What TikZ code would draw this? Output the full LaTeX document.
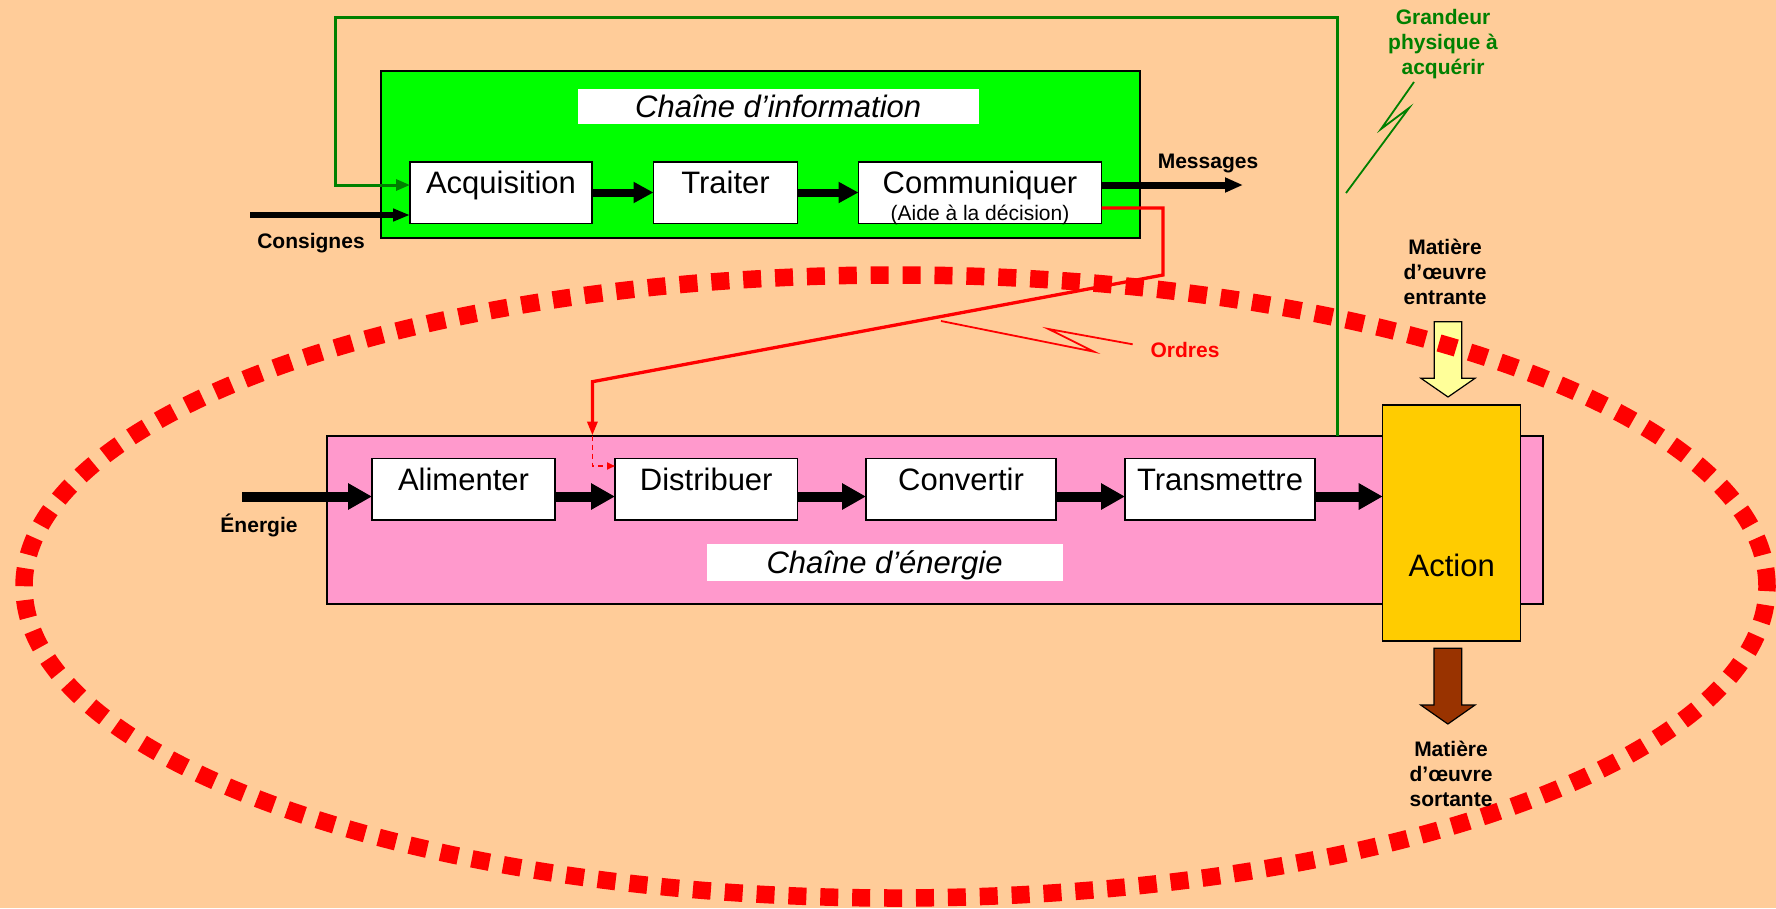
\documentclass[tikz,border=0pt]{standalone}
\usepackage{fontspec}
\setmainfont{Liberation Sans}
\usetikzlibrary{arrows.meta}
\definecolor{bgc}{HTML}{FFCC99}
\definecolor{infogreen}{HTML}{00FF00}
\definecolor{darkgreen}{HTML}{008000}
\definecolor{pinkc}{HTML}{FF99CC}
\definecolor{actionc}{HTML}{FFCC00}
\definecolor{paleyellow}{HTML}{FFFF99}
\definecolor{brownc}{HTML}{993300}
\definecolor{redc}{HTML}{FF0000}
\newcommand{\mainfs}{\fontsize{31}{37}\selectfont}
\newcommand{\labfs}{\fontsize{21}{25}\selectfont\bfseries}
\begin{document}
\begin{tikzpicture}[x=1pt,y=-1pt,
  chainbox/.style={draw=black, line width=2pt, inner sep=0pt, outer sep=0pt},
  funcbox/.style={draw=black, line width=1.5pt, fill=white, inner sep=0pt, outer sep=0pt,
    font=\mainfs, text height=22pt, text depth=20pt, minimum height=61.5pt},
  titlebox/.style={fill=white, inner sep=0pt, outer sep=0pt, font=\mainfs\itshape,
    text height=23pt, text depth=0pt},
  lab/.style={font=\labfs, inner sep=0pt, align=center},
  iarrow/.style={line width=8pt, -{Triangle[length=20pt,width=20pt]}},
  earrow/.style={line width=10pt, -{Triangle[length=24pt,width=25pt]}},
  marrow/.style={line width=7pt, -{Triangle[length=18pt,width=14pt]}},
  carrow/.style={line width=5.5pt, -{Triangle[length=17pt,width=12pt]}},
  garrow/.style={draw=darkgreen, line width=3pt, -{Triangle[length=14pt,width=11pt]}},
  rarrow/.style={draw=redc, line width=3.3pt, -{Triangle[length=14pt,width=10pt]}},
  rdash/.style={draw=redc, line width=1.8pt, dash pattern=on 5pt off 4pt, -{Triangle[length=8pt,width=7pt]}},
  zig/.style={line width=1.8pt},
  blockarrow/.style={draw=black, line width=1.2pt},
  loop/.style={draw=redc, line width=17.5pt, dash pattern=on 18pt off 13.9pt}
]
\useasboundingbox (0,0) rectangle (1776,908);
\fill[bgc] (0,0) rectangle (1776,908);

% yellow input arrow (under the loop)
\draw[blockarrow, fill=paleyellow] (1434.3,321.7) -- (1461.7,321.7) -- (1461.7,378.3) -- (1475,378.3)
  -- (1448,397) -- (1421,378.3) -- (1434.3,378.3) -- cycle;

% dotted loop
\draw[loop] (895.5,586.5) ellipse [x radius=871.5pt, y radius=311.5pt];

% information chain
\node[chainbox, fill=infogreen, minimum width=759pt, minimum height=166.5pt] (info) at (760,154.6) {};
\node[titlebox, minimum width=401pt, minimum height=35pt] (infotitle) at (778.2,106) {Chaîne d’information};
\node[funcbox, minimum width=182pt] (acq) at (501,192.5) {Acquisition};
\node[funcbox, minimum width=144pt] (trait) at (725.5,192.5) {Traiter};
\node[funcbox, minimum width=243pt] (comm) at (980,192.5) {Communiquer};
\node[font=\fontsize{21}{25}\selectfont, inner sep=0pt, anchor=base] (aide) at (980,220) {(Aide à la décision)};

% energy chain
\node[chainbox, fill=pinkc, minimum width=1215.5pt, minimum height=168pt] (energy) at (934.75,519.5) {};
\node[titlebox, minimum width=356pt, minimum height=37.5pt] (energytitle) at (884.6,562.25) {Chaîne d’énergie};
\node[funcbox, minimum width=183pt] (alim) at (463.5,489.25) {Alimenter};
\node[funcbox, minimum width=182.5pt] (distr) at (706.25,489.25) {Distribuer};
\node[funcbox, minimum width=190pt] (conv) at (961,489.25) {Convertir};
\node[funcbox, minimum width=190pt] (trans) at (1220,489.25) {Transmettre};
\node[draw=black, line width=1.5pt, fill=actionc, inner sep=0pt, outer sep=0pt,
  minimum width=138pt, minimum height=236pt, font=\mainfs, text height=107pt, text depth=0pt]
  (action) at (1451.7,523) {Action};

% brown output arrow
\draw[blockarrow, fill=brownc] (1434,648.3) -- (1461.7,648.3) -- (1461.7,705) -- (1475,705)
  -- (1447.85,724) -- (1420.7,705) -- (1434,705) -- cycle;

% info chain arrows
\draw[iarrow] (acq.east) -- (trait.west);
\draw[iarrow] (trait.east) -- (comm.west);
\coordinate (msg) at (1243,185);
\draw[marrow] (comm.east |- msg) -- (msg);
\coordinate (cons) at (250,215);
\draw[carrow] (cons) -- (cons -| acq.west);

% energy chain arrows
\coordinate (ein) at (242,496.5);
\draw[earrow] (ein) -- (ein -| alim.west);
\draw[earrow] (alim.east |- ein) -- (distr.west |- ein);
\draw[earrow] (distr.east |- ein) -- (conv.west |- ein);
\draw[earrow] (conv.east |- ein) -- (trans.west |- ein);
\draw[earrow] (trans.east |- ein) -- (action.west |- ein);

% green feedback
\coordinate (g1) at (335,17.5);
\coordinate (g2) at (1337.5,17.5);
\coordinate (gin) at ([yshift=7.5pt]acq.west);
\draw[garrow] (g2 |- energy.north) -- (g2) -- (g1) |- (gin);

% red orders
\coordinate (rout) at ([yshift=-15.5pt]comm.east);
\coordinate (r2) at (1163,275);
\coordinate (r3) at (592.4,381.7);
\coordinate (r4) at (592.4,466);
\draw[rarrow] (rout) -| (r2) -- (r3) -- (r3 |- energy.north);
\draw[rdash] (r3 |- energy.north) -- (r4) -- (r4 -| distr.west);

% lightning marks
\coordinate (oz1) at (941,321);
\coordinate (oz2) at (1094,351.7);
\coordinate (oz3) at (1048.5,329);
\coordinate (oz4) at (1132.7,344.3);
\draw[zig, draw=redc] (oz1) -- (oz2) -- (oz3) -- (oz4);
\coordinate (gz1) at (1414,82);
\coordinate (gz2) at (1381,129);
\coordinate (gz3) at (1409,108);
\coordinate (gz4) at (1346,193);
\draw[zig, draw=darkgreen] (gz1) -- (gz2) -- (gz3) -- (gz4);

% labels
\node[lab, anchor=base] (consignes) at (311,248) {Consignes};
\node[lab, anchor=base] (messages) at (1208,168) {Messages};
\node[lab, anchor=base, text=redc] (ordres) at (1185,357.3) {Ordres};
\node[lab, anchor=base] (energie) at (259,532) {Énergie};
\node[lab, text=darkgreen] (grandeur) at (1443,44) {Grandeur\\physique à\\acquérir};
\node[lab] (entrante) at (1445,271.5) {Matière\\d’œuvre\\entrante};
\node[lab] (sortante) at (1451,773.5) {Matière\\d’œuvre\\sortante};
\end{tikzpicture}
\end{document}
